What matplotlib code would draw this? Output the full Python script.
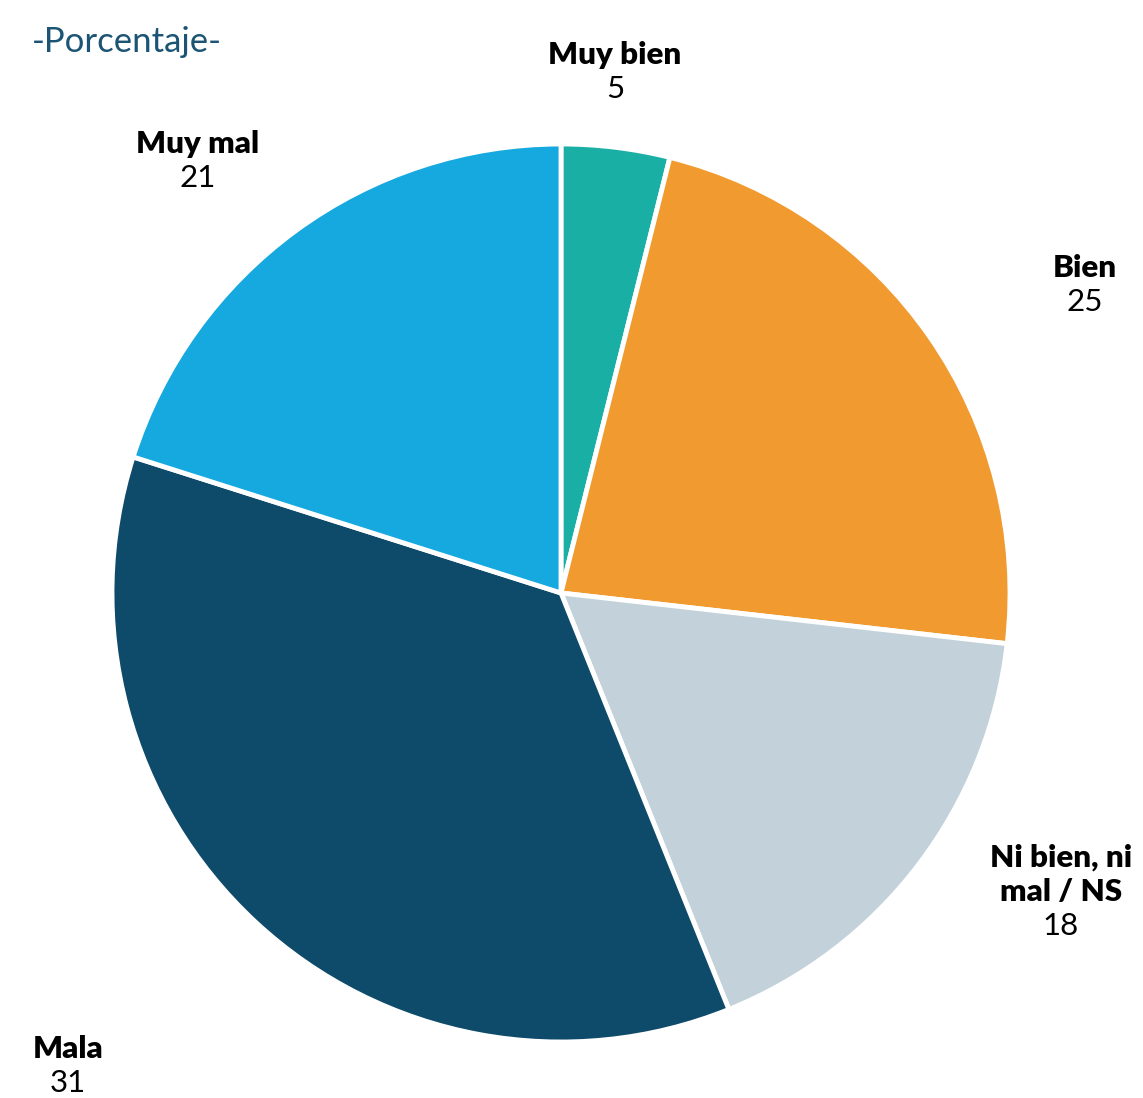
import matplotlib
matplotlib.use('Agg')
import matplotlib.pyplot as plt

plt.rcParams['font.family'] = ['Lato', 'DejaVu Sans']

# categories, clockwise from the top
categories = ['Muy bien', 'Bien', 'Ni bien, ni\nmal / NS', 'Mala', 'Muy mal']
# printed values
label_values = [5, 25, 18, 31, 21]
# wedge shares as drawn in the original picture
shares = [3.9, 22.9, 17.1, 36.0, 20.1]
colors = ['#1AAFA5', '#F09A30', '#C3D2DA', '#0E4A6A', '#16A9E0']

W, H = 1143, 1098
fig = plt.figure(figsize=(W / 100, H / 100), dpi=100)
ax = fig.add_axes([0, 0, 1, 1])

ax.pie(shares, colors=colors, startangle=90, counterclock=False,
       center=(561, H - 593), radius=449, frame=True,
       wedgeprops=dict(edgecolor='white', linewidth=3.5))
ax.set_xlim(0, W)
ax.set_ylim(0, H)
ax.set_aspect('auto')
ax.axis('off')

# label anchor: (x center, y of top bold line) in pixels from top
label_pos = [(615, 55), (1085, 268), (1061, 858), (68, 1049), (198, 144)]
for name, val, (x, y) in zip(categories, label_values, label_pos):
    lines = name.split('\n')
    for i, line in enumerate(lines):
        ax.text(x, H - (y + 34 * i), line, ha='center', va='center',
                fontsize=22.5, fontweight='heavy', color='black')
    ax.text(x, H - (y + 34 * len(lines)), str(val), ha='center', va='center',
            fontsize=22.5, color='black')

ax.text(32, H - 42, '-Porcentaje-', ha='left', va='center',
        fontsize=25, color='#1B5475')

fig.savefig('out.png', dpi=100)
